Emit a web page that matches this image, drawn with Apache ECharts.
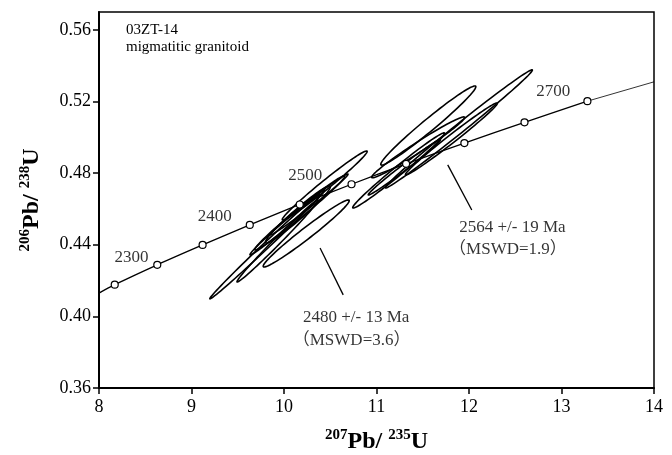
<!DOCTYPE html>
<html>
<head>
<meta charset="utf-8">
<script src="https://cdn.jsdelivr.net/npm/echarts@6/dist/echarts.min.js"></script>
<style>
  html, body { margin: 0; padding: 0; background: #fff; }
  #main { width: 672px; height: 455px; }
</style>
</head>
<body>
<div id="main"></div>
<script>
// concordia marks, 2250 .. 2700 Ma every 50 Ma
var concX = [8.17, 8.63, 9.12, 9.63, 10.17, 10.73, 11.32, 11.95, 12.60, 13.28];
var concY = [0.4177, 0.4288, 0.4399, 0.4511, 0.4625, 0.4738, 0.4852, 0.4968, 0.5084, 0.5202];
// where the curve meets the frame
var concStart = [8.0, 0.4130];
var concEnd = [14.0, 0.5310];

// error ellipses: centre, half widths, correlation
var ellX   = [10.24, 9.82, 9.93, 10.44, 10.17, 10.15, 10.01, 10.27, 11.56, 11.89, 11.81, 11.45, 11.24, 11.30];
var ellY   = [0.4463, 0.4402, 0.4421, 0.4731, 0.4578, 0.4569, 0.4511, 0.4625, 0.5066, 0.5047, 0.4991, 0.4944, 0.4815, 0.4832];
var ellSx  = [0.465, 0.622, 0.438, 0.459, 0.486, 0.351, 0.378, 0.422, 0.514, 0.795, 0.497, 0.503, 0.497, 0.389];
var ellSy  = [0.0187, 0.0304, 0.0229, 0.0193, 0.0207, 0.0159, 0.0168, 0.0170, 0.0221, 0.0330, 0.0201, 0.0170, 0.0210, 0.0154];
var ellRho = [0.978, 0.997, 0.993, 0.986, 0.988, 0.972, 0.991, 0.992, 0.980, 0.995, 0.990, 0.981, 0.988, 0.991];

var yTicks = [0.36, 0.40, 0.44, 0.48, 0.52, 0.56];

var ageText = ['2300', '2400', '2500', '2700'];
var ageAt = [[8.35, 0.4326], [9.25, 0.4555], [10.23, 0.4784], [12.91, 0.5254]];

var resultText = ['2564 +/- 19 Ma', '（MSWD=1.9）', '2480 +/- 13 Ma', '（MSWD=3.6）'];
var resultAt = [[11.90, 0.4494], [11.79, 0.4371], [10.21, 0.3991], [10.10, 0.3863]];

var pointerLines = [
    [[11.77, 0.4846], [12.03, 0.4594]],
    [[10.39, 0.4382], [10.64, 0.4120]]
];

var serif = 'Liberation Serif';

var ellData = ellX.map(function (x, i) {
    return [x, ellY[i], ellSx[i], ellSy[i], ellRho[i]];
});

var concMain = [concStart].concat(concX.map(function (x, i) { return [x, concY[i]]; }));
var concTail = [[concX[concX.length - 1], concY[concY.length - 1]], concEnd];

var nameRich = {
    main: { fontFamily: serif, fontWeight: 'bold', fontSize: 24, color: '#000', lineHeight: 26, verticalAlign: 'bottom' },
    sup: { fontFamily: serif, fontWeight: 'bold', fontSize: 15, color: '#000', lineHeight: 26, verticalAlign: 'top' }
};

var myChart = echarts.init(document.getElementById('main'));

var option = {
    animation: false,
    backgroundColor: '#fff',
    grid: {
        left: 99, right: 18, top: 12, bottom: 67,
        show: true, borderColor: '#000', borderWidth: 1.5,
        outerBoundsMode: 'none'
    },
    xAxis: {
        type: 'value', min: 8, max: 14, interval: 1,
        name: '{sup|207}{main|Pb/ }{sup|235}{main|U}',
        nameLocation: 'middle', nameGap: 40,
        nameTextStyle: { rich: nameRich },
        axisLine: { lineStyle: { color: '#000', width: 2 } },
        axisTick: { inside: false, length: 6, lineStyle: { color: '#000', width: 1.5 } },
        axisLabel: { fontFamily: serif, fontSize: 18, color: '#000', margin: 10 },
        splitLine: { show: false }
    },
    yAxis: {
        type: 'value', min: 0.36, max: 0.57,
        name: '{sup|206}{main|Pb/ }{sup|238}{main|U}',
        nameLocation: 'middle', nameGap: 55, nameRotate: 90,
        nameTextStyle: { rich: nameRich },
        axisLine: { lineStyle: { color: '#000', width: 2 } },
        axisTick: { customValues: yTicks, inside: false, length: 6, lineStyle: { color: '#000', width: 1.5 } },
        axisLabel: {
            customValues: yTicks, fontFamily: serif, fontSize: 18, color: '#000', margin: 8,
            formatter: function (v) { return v.toFixed(2); }
        },
        splitLine: { show: false }
    },
    graphic: [{
        type: 'text', left: 126, top: 22, z: 10,
        style: { text: '03ZT-14\nmigmatitic granitoid', font: '15px ' + serif, fill: '#000', lineHeight: 17 }
    }],
    series: [
        {
            name: 'ellipses', type: 'custom', data: ellData, z: 3,
            encode: { x: 0, y: 1 },
            renderItem: function (params, api) {
                var cx = api.value(0), cy = api.value(1), sx = api.value(2), sy = api.value(3), r = api.value(4);
                var k = Math.sqrt(1 - r * r);
                var pts = [];
                for (var j = 0; j < 90; j++) {
                    var t = j / 90 * Math.PI * 2;
                    pts.push(api.coord([cx + sx * Math.cos(t), cy + sy * (r * Math.cos(t) + k * Math.sin(t))]));
                }
                return {
                    type: 'polygon', shape: { points: pts },
                    style: { fill: 'none', stroke: '#000', lineWidth: 1.6 }
                };
            }
        },
        {
            name: 'concordia', type: 'line', data: concMain, smooth: 0.3, symbol: 'none', z: 4,
            lineStyle: { color: '#000', width: 1.3 }
        },
        {
            name: 'concordia tail', type: 'line', data: concTail, symbol: 'none', z: 4,
            lineStyle: { color: '#000', width: 0.8 }
        },
        {
            name: 'age marks', type: 'scatter', z: 5,
            data: concX.map(function (x, i) { return [x, concY[i]]; }),
            symbol: 'circle', symbolSize: 7,
            itemStyle: { color: '#fff', borderColor: '#000', borderWidth: 1.2, opacity: 1 }
        },
        {
            name: 'pointers', type: 'lines', coordinateSystem: 'cartesian2d', z: 4,
            data: pointerLines.map(function (p) { return { coords: p }; }),
            lineStyle: { color: '#000', width: 1.3, opacity: 1 }
        },
        {
            name: 'age labels', type: 'scatter', z: 6, symbolSize: 1,
            itemStyle: { color: 'rgba(0,0,0,0)' },
            data: ageText.map(function (t, i) { return { name: t, value: ageAt[i] }; }),
            label: {
                show: true, position: 'inside', formatter: '{b}',
                fontFamily: serif, fontSize: 17, color: '#000'
            }
        },
        {
            name: 'results', type: 'scatter', z: 6, symbolSize: 1,
            itemStyle: { color: 'rgba(0,0,0,0)' },
            data: resultText.map(function (t, i) { return { name: t, value: resultAt[i] }; }),
            label: {
                show: true, position: [0, 0], align: 'left', verticalAlign: 'middle', formatter: '{b}',
                fontFamily: serif + ', Noto Sans CJK SC', fontSize: 17, color: '#000'
            }
        }
    ]
};

myChart.setOption(option);
</script>
</body>
</html>
